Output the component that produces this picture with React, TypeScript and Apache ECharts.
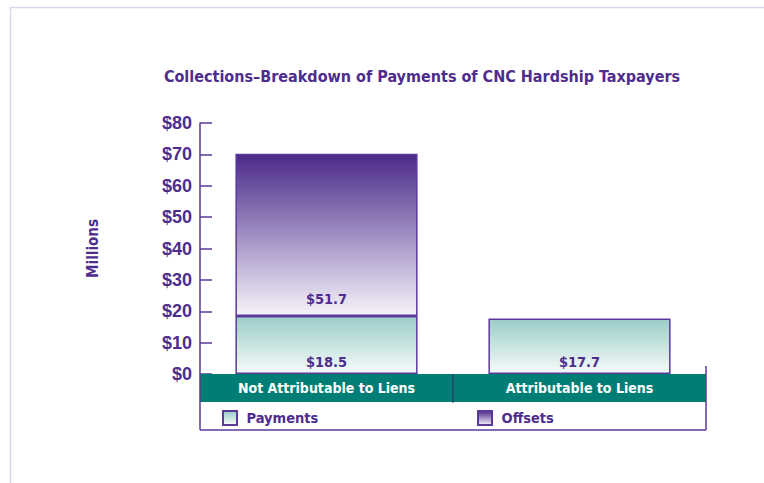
import React, { useEffect, useRef } from "react";
import * as echarts from "echarts";

const categories = ["Not Attributable to Liens", "Attributable to Liens"];
const payments = [18.5, 17.7];
const offsets: (number | null)[] = [51.7, null];
const yTicks = { min: 0, max: 80, interval: 10 };

const PURPLE = "#4E2D8E";
const LINE = "#5B3A9A";
const TEAL = "#007E76";
const NARROW = "'Liberation Sans Narrow', 'DejaVu Sans Condensed', 'Roboto Condensed', sans-serif";

export default function App() {
  const ref = useRef<HTMLDivElement>(null);
  useEffect(() => {
    if (!ref.current) return;
    const chart = echarts.init(ref.current, null, { renderer: "svg" });
    const payGrad = new echarts.graphic.LinearGradient(0, 0, 0, 1, [
      { offset: 0, color: "#9BCDC9" },
      { offset: 1, color: "#F6FBFA" },
    ]);
    const offGrad = new echarts.graphic.LinearGradient(0, 0, 0, 1, [
      { offset: 0, color: "#4B2A8A" },
      { offset: 1, color: "#F6F3FA" },
    ]);
    const legendText = { color: PURPLE, fontFamily: NARROW, fontWeight: "bold", fontSize: 14.5 };
    chart.setOption({
      animation: false,
      backgroundColor: "#fff",
      title: {
        text: "Collections\u2013Breakdown of Payments of CNC Hardship Taxpayers",
        left: 417,
        textAlign: "center",
        top: 63,
        textStyle: { color: PURPLE, fontFamily: NARROW, fontWeight: "bold", fontSize: 16 },
      },
      grid: { left: 200, right: 58, top: 123, bottom: 109 },
      xAxis: {
        type: "category",
        data: categories,
        z: 10,
        axisLine: { show: false },
        axisTick: { show: false },
        axisLabel: { interval: 0, color: "#fff", fontFamily: NARROW, fontWeight: "bold", fontSize: 14, margin: 7 },
      },
      yAxis: {
        type: "value",
        min: yTicks.min,
        max: yTicks.max,
        interval: yTicks.interval,
        name: "Millions",
        nameLocation: "middle",
        nameRotate: 90,
        nameGap: 100,
        nameTextStyle: { color: PURPLE, fontFamily: NARROW, fontWeight: "bold", fontSize: 15 },
        axisLine: { show: true, lineStyle: { color: LINE, width: 1.5 } },
        axisTick: { show: true, inside: true, length: 12, lineStyle: { color: LINE, width: 1.5 } },
        splitLine: { show: false },
        axisLabel: {
          color: PURPLE,
          fontFamily: "'Liberation Sans', Arial, sans-serif",
          fontWeight: "bold",
          fontSize: 18,
          margin: 8,
          formatter: (v: number) => "$" + v,
        },
      },
      legend: [
        {
          data: [{ name: "Payments", icon: "rect" }],
          left: 217,
          top: 405,
          itemWidth: 14,
          itemHeight: 14,
          formatter: (n: string) => " " + n,
          textStyle: legendText,
        },
        {
          data: [{ name: "Offsets", icon: "rect" }],
          left: 472,
          top: 405,
          itemWidth: 14,
          itemHeight: 14,
          formatter: (n: string) => " " + n,
          textStyle: legendText,
        },
      ],
      series: [
        {
          name: "Payments",
          type: "bar",
          stack: "total",
          data: payments,
          barWidth: "72%",
          itemStyle: { color: payGrad, borderColor: LINE, borderWidth: 1.5 },
          label: {
            show: true,
            position: "insideBottom",
            distance: 5,
            color: PURPLE,
            fontFamily: NARROW,
            fontWeight: "bold",
            fontSize: 14.5,
            formatter: (p: any) => "$" + p.value,
          },
        },
        {
          name: "Offsets",
          type: "bar",
          stack: "total",
          data: offsets,
          barWidth: "72%",
          itemStyle: { color: offGrad, borderColor: LINE, borderWidth: 1.5 },
          label: {
            show: true,
            position: "insideBottom",
            distance: 9,
            color: PURPLE,
            fontFamily: NARROW,
            fontWeight: "bold",
            fontSize: 14.5,
            formatter: (p: any) => "$" + p.value,
          },
        },
      ],
      graphic: [
        { type: "line", z: 0, shape: { x1: 10, y1: 7.5, x2: 764, y2: 7.5 }, style: { stroke: "#DCD8EC", lineWidth: 1.5 } },
        { type: "line", z: 0, shape: { x1: 10.5, y1: 7, x2: 10.5, y2: 483 }, style: { stroke: "#DCD8EC", lineWidth: 1.5 } },
        { type: "rect", z: 5, shape: { x: 200, y: 374, width: 506, height: 28 }, style: { fill: TEAL } },
        { type: "line", z: 6, shape: { x1: 453, y1: 374, x2: 453, y2: 403 }, style: { stroke: "#3A2A6A", lineWidth: 1 } },
        { type: "line", z: 6, shape: { x1: 200, y1: 374, x2: 200, y2: 430 }, style: { stroke: LINE, lineWidth: 1.5 } },
        { type: "line", z: 6, shape: { x1: 706, y1: 366, x2: 706, y2: 430 }, style: { stroke: LINE, lineWidth: 1.5 } },
        { type: "line", z: 6, shape: { x1: 200, y1: 430, x2: 706, y2: 430 }, style: { stroke: LINE, lineWidth: 1.5 } },
      ],
    });
    return () => chart.dispose();
  }, []);
  return <div ref={ref} style={{ width: 764, height: 483, position: "absolute", left: 0, top: 0 }} />;
}
